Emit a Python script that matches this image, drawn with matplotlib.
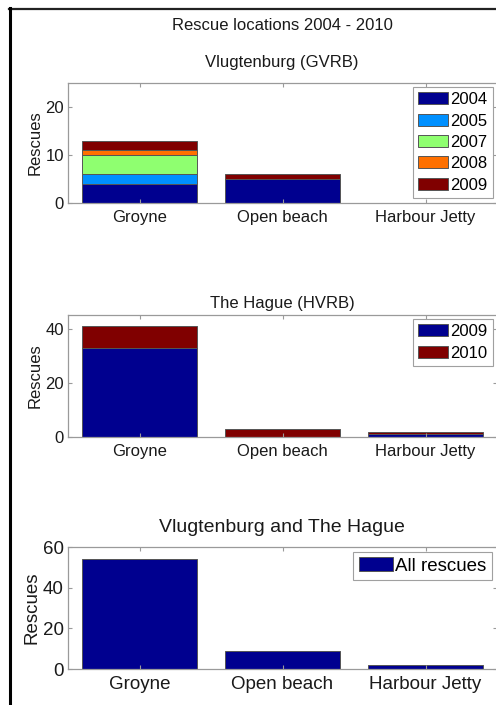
import numpy as np
import matplotlib
matplotlib.use('Agg')
import matplotlib.pyplot as plt
from matplotlib.lines import Line2D

plt.rcParams['font.family'] = ['Liberation Sans', 'DejaVu Sans']

locations = ['Groyne', 'Open beach', 'Harbour Jetty']

# Vlugtenburg (GVRB), stacked per year
gvrb_years = ['2004', '2005', '2007', '2008', '2009']
gvrb_counts = [
    [4, 5, 0],   # 2004
    [2, 0, 0],   # 2005
    [4, 0, 0],   # 2007
    [1, 0, 0],   # 2008
    [2, 1, 0],   # 2009
]
gvrb_colors = ['#00008f', '#0090ff', '#8fff70', '#ff7000', '#800000']

# The Hague (HVRB)
hvrb_years = ['2009', '2010']
hvrb_counts = [
    [33, 0, 1],  # 2009
    [8, 3, 1],   # 2010
]
hvrb_colors = ['#00008f', '#800000']

# Both together
all_label = 'All rescues'
all_counts = [54, 9, 2]
all_color = '#00008f'

W, H = 496, 705
fig = plt.figure(figsize=(W / 100, H / 100), dpi=100)

txt = '#1a1a1a'
spine_c = '#9a9a9a'


def style_axes(ax, fs, ylim, yticks):
    ax.set_xlim(0.5, 3.5)
    ax.set_ylim(*ylim)
    ax.set_yticks(yticks)
    ax.set_xticks([1, 2, 3])
    ax.set_xticklabels(locations)
    ax.tick_params(direction='in', length=3, width=0.8, color=spine_c,
                   labelsize=fs, labelcolor=txt, top=True, right=True, pad=3)
    ax.tick_params(axis='x', pad=5)
    for s in ax.spines.values():
        s.set_color(spine_c)
        s.set_linewidth(0.9)
    ax.set_ylabel('Rescues', fontsize=fs, color=txt, labelpad=2)


def px_axes(left, top, bottom, right=497):
    return fig.add_axes([left / W, 1 - bottom / H, (right - left) / W, (bottom - top) / H])


x = np.arange(1, 4)
bar_kw = dict(width=0.8, edgecolor='#555555', linewidth=0.7)
leg_kw = dict(loc='upper right', fancybox=False, framealpha=1, edgecolor='#a0a0a0',
              handlelength=1.8, handleheight=0.75, handletextpad=0.15,
              labelspacing=0.38, borderpad=0.3, borderaxespad=0.25)

# top panel
ax1 = px_axes(68, 83, 203)
bottom = np.zeros(3)
for yr, vals, c in zip(gvrb_years, gvrb_counts, gvrb_colors):
    vals = np.array(vals, dtype=float)
    ax1.bar(x, vals, bottom=bottom, color=c, label=yr, **bar_kw)
    bottom += vals
style_axes(ax1, 12, (0, 25), [0, 10, 20])
leg = ax1.legend(fontsize=12, **leg_kw)
leg.get_frame().set_linewidth(0.8)

# middle panel
ax2 = px_axes(68, 315, 437)
bottom = np.zeros(3)
for yr, vals, c in zip(hvrb_years, hvrb_counts, hvrb_colors):
    vals = np.array(vals, dtype=float)
    ax2.bar(x, vals, bottom=bottom, color=c, label=yr, **bar_kw)
    bottom += vals
style_axes(ax2, 12, (0, 45), [0, 20, 40])
leg = ax2.legend(fontsize=12, **leg_kw)
leg.get_frame().set_linewidth(0.8)

# bottom panel
ax3 = px_axes(68, 547, 669)
ax3.bar(x, all_counts, color=all_color, label=all_label, **bar_kw)
style_axes(ax3, 13.5, (0, 60), [0, 20, 40, 60])
leg = ax3.legend(fontsize=13.5, **leg_kw)
leg.get_frame().set_linewidth(0.8)

# titles
fig.text(282 / W, 1 - 26 / H, 'Rescue locations 2004 - 2010', ha='center', va='center',
         fontsize=12, color=txt)
fig.text(282 / W, 1 - 63 / H, 'Vlugtenburg (GVRB)', ha='center', va='center',
         fontsize=12, color=txt)
fig.text(282 / W, 1 - 303 / H, 'The Hague (HVRB)', ha='center', va='center',
         fontsize=12, color=txt)
fig.text(282 / W, 1 - 528 / H, 'Vlugtenburg and The Hague', ha='center', va='center',
         fontsize=14, color=txt)

# black frame at top and left (figure window edge)
fig.add_artist(Line2D([9 / W, 1], [1 - 8.5 / H, 1 - 8.5 / H], color='#222222', lw=1.6,
                      transform=fig.transFigure))
fig.add_artist(Line2D([9.5 / W, 9.5 / W], [0, 1 - 8 / H], color='black', lw=2.2,
                      transform=fig.transFigure))

fig.savefig('out.png', dpi=100)
